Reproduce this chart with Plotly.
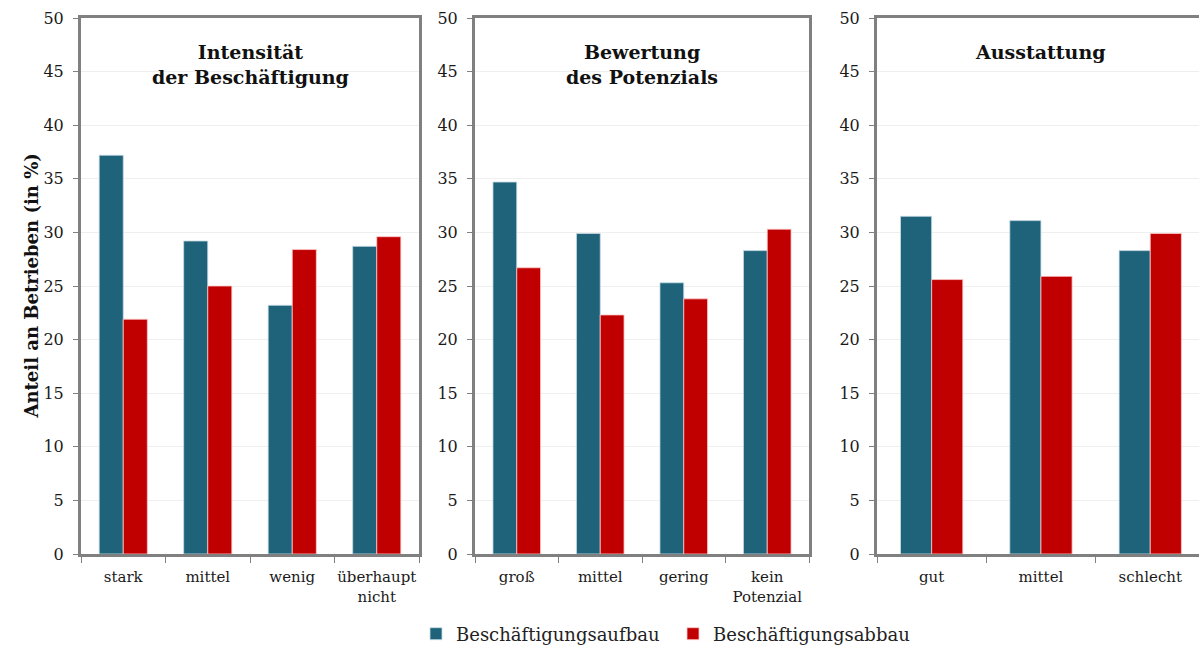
import plotly.graph_objects as go
from plotly.subplots import make_subplots

# Panel categories and shares (in %)
panel_titles = ["Intensität<br>der Beschäftigung", "Bewertung<br>des Potenzials", "Ausstattung"]
cats_intensitaet = ["stark", "mittel", "wenig", "überhaupt<br>nicht"]
cats_potenzial = ["groß", "mittel", "gering", "kein<br>Potenzial"]
cats_ausstattung = ["gut", "mittel", "schlecht"]

aufbau_intensitaet = [37.2, 29.2, 23.2, 28.7]
abbau_intensitaet = [21.9, 25.0, 28.4, 29.6]
aufbau_potenzial = [34.7, 29.9, 25.3, 28.3]
abbau_potenzial = [26.7, 22.3, 23.8, 30.3]
aufbau_ausstattung = [31.5, 31.1, 28.3]
abbau_ausstattung = [25.6, 25.9, 29.9]

series_names = ["Beschäftigungsaufbau", "Beschäftigungsabbau"]
colors = ["#1F637B", "#C00000"]
line_colors = ["rgba(200,220,230,0.8)", "rgba(255,200,200,0.8)"]

FONT = "DejaVu Serif"
W, H = 1199, 646
L, R, T, B = 81, 0, 18, 92
pw = W - L - R
ph = H - T - B


def px(x):
    return (x - L) / pw


fig = make_subplots(rows=1, cols=3)
panels = [
    (cats_intensitaet, aufbau_intensitaet, abbau_intensitaet),
    (cats_potenzial, aufbau_potenzial, abbau_potenzial),
    (cats_ausstattung, aufbau_ausstattung, abbau_ausstattung),
]
for i, (cats, up, down) in enumerate(panels):
    for j, vals in enumerate([up, down]):
        fig.add_trace(
            go.Bar(
                x=cats, y=vals, name=series_names[j],
                marker=dict(color=colors[j], line=dict(color=line_colors[j], width=1)),
                showlegend=(i == 0),
            ),
            row=1, col=i + 1,
        )

domains = [(px(81), px(419)), (px(475), px(809)), (px(877), 1.0)]
grid = "#EFEFEF"
axis_col = "#808080"
for i in range(3):
    xa = "xaxis" if i == 0 else f"xaxis{i + 1}"
    ya = "yaxis" if i == 0 else f"yaxis{i + 1}"
    ncat = len(panels[i][0])
    xr = [-0.5, ncat - 0.5]
    if i == 2:
        # third panel runs past the right edge of the page
        xr = [-0.5, 2.446]
    fig.layout[xa].update(
        domain=list(domains[i]), range=xr, showline=True, linecolor=axis_col, linewidth=3,
        mirror=True, ticks="outside", tickson="boundaries", tickangle=0, automargin=False,
        ticklen=6, tickcolor=axis_col, tickwidth=1, showgrid=False, ticklabelstandoff=7,
        tickfont=dict(family=FONT, size=15, color="#1a1a1a"), fixedrange=True,
    )
    fig.layout[ya].update(
        range=[0, 50], dtick=5, showline=True, linecolor=axis_col, linewidth=3,
        mirror=(i < 2), ticks="outside", ticklen=5, tickcolor=axis_col, tickwidth=1,
        showgrid=True, gridcolor=grid, gridwidth=1, zeroline=False, automargin=False,
        tickfont=dict(family=FONT, size=16, color="#1a1a1a"), ticklabelstandoff=6,
    )

center_x = [1.5, 1.5, 1.0]
for i, t in enumerate(panel_titles):
    fig.add_annotation(
        text=f"<b>{t}</b>", xref="x" if i == 0 else f"x{i + 1}", x=center_x[i],
        yref="paper", y=1 - (39 - T) / ph, yanchor="top", showarrow=False,
        font=dict(family=FONT, size=19, color="#111111"), align="center",
    )

fig.add_annotation(
    text="<b>Anteil an Betrieben (in %)</b>", xref="paper", yref="paper",
    x=px(18), y=0.5, textangle=-90, showarrow=False,
    font=dict(family=FONT, size=18, color="#111111"),
)

fig.update_layout(
    width=W, height=H, margin=dict(l=L, r=R, t=T, b=B, autoexpand=False),
    plot_bgcolor="white", paper_bgcolor="white",
    barmode="group", bargap=0.43, bargroupgap=0,
    legend=dict(orientation="h", x=px(673), xanchor="center", y=-80 / ph, yanchor="middle",
                font=dict(family=FONT, size=18, color="#222222"), itemwidth=30,
                entrywidth=212, entrywidthmode="pixels", traceorder="normal"),
    font=dict(family=FONT),
)

fig.write_html("out.html")
